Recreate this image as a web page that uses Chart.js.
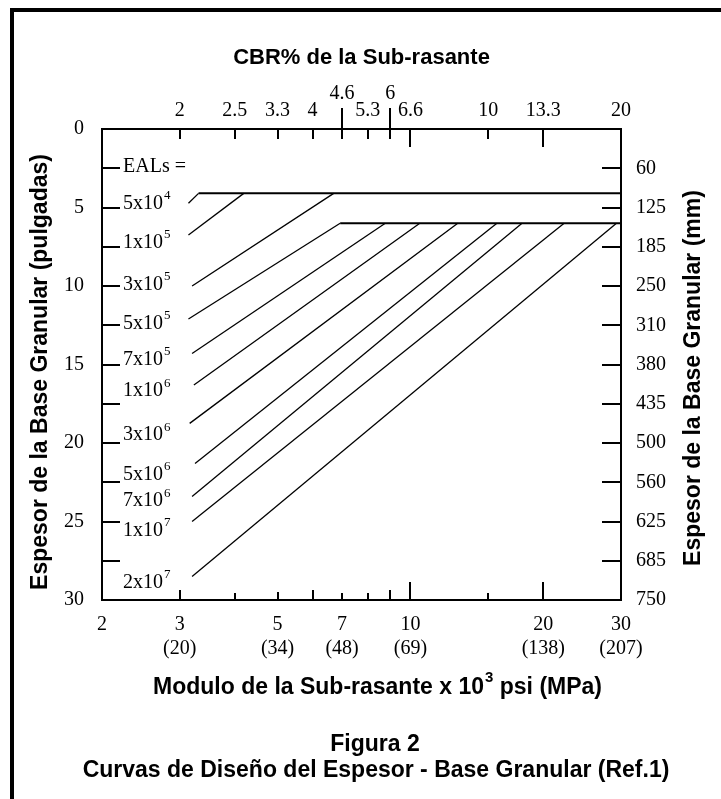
<!DOCTYPE html>
<html>
<head>
<meta charset="utf-8">
<script src="https://cdn.jsdelivr.net/npm/chart.js@4.4.0/dist/chart.umd.min.js"></script>
<style>
  html, body { margin: 0; padding: 0; background: #fff; }
  #wrap { width: 721px; height: 799px; }
</style>
</head>
<body>
<div id="wrap"><canvas id="chart" width="721" height="799"></canvas></div>
<script>
// eje inferior: modulo de la sub-rasante (x10^3 psi) y MPa
const moduloTicks = [2, 3, 5, 7, 10, 20, 30];
const mpaLabels = ['', '(20)', '(34)', '(48)', '(69)', '(138)', '(207)'];

// eje superior: CBR% colocado sobre el modulo equivalente
const cbrPos = [3, 4, 5, 6, 7, 8, 9, 10, 15, 20, 30];
const cbrLabels = ['2', '2.5', '3.3', '4', '4.6', '5.3', '6', '6.6', '10', '13.3', '20'];

// espesor: pulgadas a la izquierda, mm a la derecha
const pulgTicks = [0, 5, 10, 15, 20, 25, 30];
const mmPos = [2.5, 5, 7.5, 10, 12.5, 15, 17.5, 20, 22.5, 25, 27.5, 30];
const mmLabels = ['60', '125', '185', '250', '310', '380', '435', '500', '560', '625', '685', '750'];

// curvas de EAL (base, exponente)
const ealBase = ['5x10', '1x10', '3x10', '5x10', '7x10', '1x10', '3x10', '5x10', '7x10', '1x10', '2x10'];
const ealExp = ['4', '5', '5', '5', '5', '6', '6', '6', '6', '7', '7'];
const ealLabelEsp = [4.73, 7.26, 9.94, 12.4, 14.7, 16.7, 19.5, 22.0, 23.7, 25.6, 28.9];
const ealStartMod = [3.14, 3.14, 3.20, 3.14, 3.20, 3.23, 3.16, 3.25, 3.20, 3.20, 3.20];
const ealStartEsp = [4.73, 6.75, 10.0, 12.1, 14.3, 16.3, 18.75, 21.3, 23.4, 25.0, 28.5];
const ealEndMod = [3.31, 4.19, 6.70, 6.93, 8.77, 10.5, 12.8, 15.7, 17.9, 22.3, 29.3];
const ealEndEsp = [4.1, 4.1, 4.1, 6, 6, 6, 6, 6, 6, 6, 6];

// espesores minimos (lineas horizontales)
const topeEsp = [4.1, 6];
const topeDesde = [3.31, 6.93];

const SERIF = '"Liberation Serif", "Times New Roman", serif';
const SANS = '"Liberation Sans", Arial, sans-serif';

const datasets = ealBase.map((b, i) => ({
  label: b + ealExp[i],
  data: [{ x: ealStartMod[i], y: ealStartEsp[i] }, { x: ealEndMod[i], y: ealEndEsp[i] }],
  borderColor: '#000',
  borderWidth: 1.3,
  showLine: true,
  pointRadius: 0,
}));
topeEsp.forEach((e, i) => {
  datasets.push({
    label: 'min ' + e,
    data: [{ x: topeDesde[i], y: e }, { x: 30, y: e }],
    borderColor: '#000',
    borderWidth: 2,
    showLine: true,
    pointRadius: 0,
  });
});

const extras = {
  id: 'extras',
  beforeDraw(chart) {
    const ctx = chart.ctx;
    ctx.save();
    ctx.fillStyle = '#fff';
    ctx.fillRect(0, 0, chart.width, chart.height);
    ctx.fillStyle = '#000';
    ctx.fillRect(10, 8, chart.width - 10, 4);
    ctx.fillRect(10, 8, 4, chart.height - 8);
    ctx.restore();
  },
  afterDraw(chart) {
    const { ctx, chartArea: a } = chart;
    const x = chart.scales.x, y = chart.scales.y;
    const seg = (x1, y1, x2, y2) => { ctx.beginPath(); ctx.moveTo(x1, y1); ctx.lineTo(x2, y2); ctx.stroke(); };
    ctx.save();
    ctx.strokeStyle = '#000';
    ctx.lineWidth = 2;

    // marcas hacia adentro en los ejes verticales
    mmPos.slice(0, -1).forEach(v => {
      const py = Math.round(y.getPixelForValue(v));
      seg(a.left, py, a.left + 18, py);
      seg(a.right - 19, py, a.right, py);
    });

    // marcas del eje superior (CBR)
    const largoSup = { 7: [21, 10], 9: [21, 10], 10: [0, 18], 20: [0, 18] };
    cbrPos.slice(0, -1).forEach(v => {
      const px = Math.round(x.getPixelForValue(v));
      const l = largoSup[v] || [0, 10];
      seg(px, a.top - l[0], px, a.top + l[1]);
    });

    // marcas del eje inferior
    const largoInf = { 4: 7, 5: 8, 7: 7, 8: 7, 10: 18, 15: 7, 20: 18 };
    cbrPos.slice(0, -1).forEach(v => {
      const px = Math.round(x.getPixelForValue(v));
      seg(px, a.bottom, px, a.bottom - (largoInf[v] || 10));
    });

    // rotulos EAL
    ctx.fillStyle = '#000';
    ctx.textBaseline = 'middle';
    ctx.textAlign = 'left';
    const lx = a.left + 21;
    ctx.font = '20px ' + SERIF;
    ctx.fillText('EALs =', lx, y.getPixelForValue(2.4));
    ealBase.forEach((b, i) => {
      const py = y.getPixelForValue(ealLabelEsp[i]);
      ctx.font = '20px ' + SERIF;
      ctx.fillText(b, lx, py);
      const w = ctx.measureText(b).width;
      ctx.font = '13px ' + SERIF;
      ctx.fillText(ealExp[i], lx + w + 1, py - 8);
    });

    // titulos de los ejes verticales
    ctx.font = 'bold 23px ' + SANS;
    ctx.textAlign = 'center';
    ctx.save();
    ctx.translate(41, 372);
    ctx.rotate(-Math.PI / 2);
    ctx.fillText('Espesor de la Base Granular (pulgadas)', 0, 0);
    ctx.restore();
    ctx.save();
    ctx.translate(694, 378);
    ctx.rotate(-Math.PI / 2);
    ctx.fillText('Espesor de la Base Granular (mm)', 0, 0);
    ctx.restore();

    // titulo del eje inferior con exponente
    const t1 = 'Modulo de la Sub-rasante x 10', t2 = '3', t3 = ' psi (MPa)';
    ctx.textAlign = 'left';
    ctx.font = 'bold 23px ' + SANS;
    const w1 = ctx.measureText(t1).width, w3 = ctx.measureText(t3).width;
    ctx.font = 'bold 15px ' + SANS;
    const w2 = ctx.measureText(t2).width;
    let tx = 377 - (w1 + w2 + w3) / 2;
    ctx.font = 'bold 23px ' + SANS;
    ctx.fillText(t1, tx, 688);
    ctx.font = 'bold 15px ' + SANS;
    ctx.fillText(t2, tx + w1 + 1, 678);
    ctx.font = 'bold 23px ' + SANS;
    ctx.fillText(t3, tx + w1 + w2 + 1, 688);

    // leyenda de la figura
    ctx.textAlign = 'center';
    ctx.fillText('Figura 2', 375, 745);
    ctx.fillText('Curvas de Diseño del Espesor - Base Granular (Ref.1)', 376, 771);
    ctx.restore();
  }
};

const axisBorder = { display: true, color: '#000', width: 2 };
const tickFont = { family: SERIF, size: 20 };
const titleFont = { family: SANS, size: 22, weight: 'bold' };

new Chart(document.getElementById('chart'), {
  type: 'scatter',
  data: { datasets: datasets },
  options: {
    responsive: false,
    animation: false,
    devicePixelRatio: 1,
    layout: { padding: 0 },
    plugins: { legend: { display: false }, tooltip: { enabled: false } },
    scales: {
      x: {
        type: 'logarithmic',
        position: 'bottom',
        min: 2,
        max: 30,
        afterBuildTicks: s => { s.ticks = moduloTicks.map(v => ({ value: v })); },
        afterFit: s => { s.height = 199; },
        grid: { display: false },
        border: axisBorder,
        ticks: {
          autoSkip: false, maxRotation: 0, minRotation: 0, color: '#000', padding: 5,
          font: { family: SERIF, size: 20, lineHeight: 1.2 },
          callback: v => {
            const i = moduloTicks.indexOf(v);
            return mpaLabels[i] ? [String(v), mpaLabels[i]] : String(v);
          }
        }
      },
      x2: {
        type: 'logarithmic',
        position: 'top',
        min: 2,
        max: 30,
        afterBuildTicks: s => { s.ticks = cbrPos.map(v => ({ value: v })); },
        afterFit: s => { s.height = 129; },
        grid: { display: false },
        border: axisBorder,
        ticks: {
          autoSkip: false, maxRotation: 0, minRotation: 0, color: '#000', padding: 2,
          font: { family: SERIF, size: 20, lineHeight: 0.85 },
          callback: v => {
            const t = cbrLabels[cbrPos.indexOf(v)];
            return (v === 7 || v === 9) ? [t, ''] : t;
          }
        },
        title: {
          display: true, color: '#000', font: titleFont,
          text: 'CBR% de la Sub-rasante',
          padding: { top: 45, bottom: 0 }
        }
      },
      y: {
        type: 'linear',
        position: 'left',
        reverse: true,
        min: 0,
        max: 30,
        afterBuildTicks: s => { s.ticks = pulgTicks.map(v => ({ value: v })); },
        afterFit: s => { s.width = 102; },
        grid: { display: false },
        border: axisBorder,
        ticks: { color: '#000', padding: 10, font: tickFont }
      },
      y2: {
        type: 'linear',
        position: 'right',
        reverse: true,
        min: 0,
        max: 30,
        afterBuildTicks: s => { s.ticks = mmPos.map(v => ({ value: v })); },
        afterFit: s => { s.width = 100; },
        grid: { display: false },
        border: axisBorder,
        ticks: {
          color: '#000', padding: 7, font: tickFont,
          callback: v => mmLabels[mmPos.indexOf(v)]
        }
      }
    }
  },
  plugins: [extras]
});
</script>
</body>
</html>
